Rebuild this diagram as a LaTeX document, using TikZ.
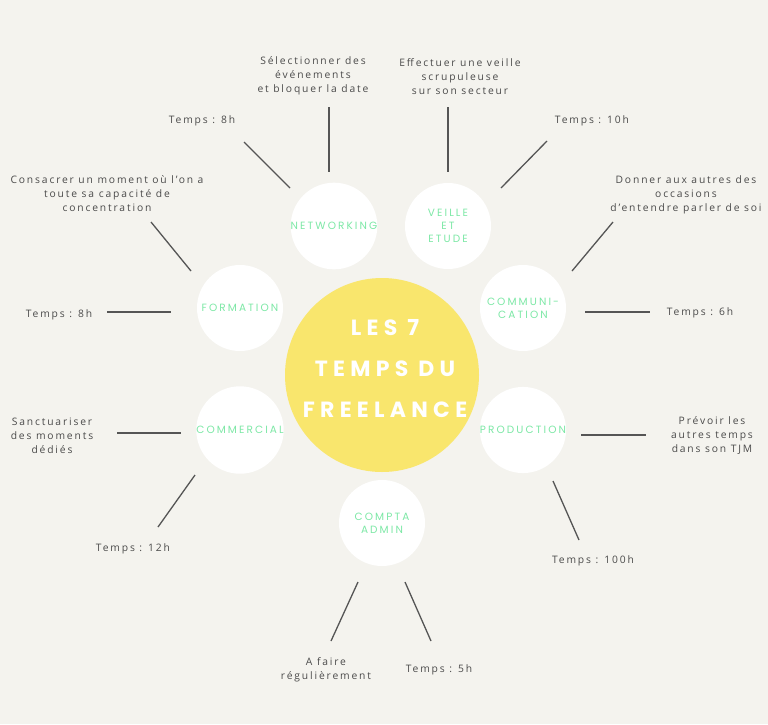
\documentclass[tikz,border=0pt]{standalone}
\usepackage{fontspec}
\setmainfont{Open Sans}[LetterSpace=18]
\newfontfamily\labfont{Poppins}[LetterSpace=20]
\newfontfamily\titfont{Poppins}[LetterSpace=24]
\definecolor{bgcol}{HTML}{F4F3EE}
\definecolor{sun}{HTML}{F9E66D}
\definecolor{labgreen}{HTML}{7DE8A6}
\definecolor{txtgrey}{HTML}{4A4A4A}
\definecolor{linegrey}{HTML}{555555}
\begin{document}
\begin{tikzpicture}[x=1pt,y=-1pt,
  bub/.style={circle,fill=white,minimum size=86pt,inner sep=0pt,text=labgreen,
    font=\labfont\fontsize{10.5}{13}\selectfont,align=center},
  note/.style={text=txtgrey,font=\fontsize{10.3}{14}\selectfont,align=center,inner sep=0pt,yshift=-1.5pt},
  link/.style={draw=linegrey,line width=1.3pt}]
\fill[bgcol] (0,0) rectangle (768,724);
\useasboundingbox (0,0) rectangle (768,724);
% centre
\node[circle,fill=sun,minimum size=194pt,inner sep=0pt] (core) at (382,375) {};
\node[text=white,font=\titfont\bfseries\fontsize{22}{41}\selectfont,align=center] (coretxt) at (385,369) {LES 7\\TEMPS DU\\FREELANCE};
% bubbles
\node[bub] (net) at (334,226) {NETWORKING};
\node[bub] (veille) at (448,226) {VEILLE\\ET\\ETUDE};
\node[bub] (form) at (240,308) {FORMATION};
\node[bub] (comm) at (523,308) {COMMUNI-\\CATION};
\node[bub] (comc) at (240,430) {COMMERCIAL};
\node[bub] (prod) at (523,430) {PRODUCTION};
\node[bub] (compta) at (382,523) {COMPTA\\ADMIN};
% notes
\node[note] (n1) at (313,74) {Sélectionner des\\événements\\et bloquer la date};
\node[note] (n2) at (460,75) {Effectuer une veille\\scrupuleuse\\sur son secteur};
\node[note] (n3) at (202,119) {Temps : 8h};
\node[note] (n4) at (592,119) {Temps : 10h};
\node[note] (n5) at (107,192) {Consacrer un moment où l’on a\\toute sa capacité de\\concentration};
\node[note] (n6) at (686,193) {Donner aux autres des\\occasions\\d’entendre parler de soi};
\node[note] (n7) at (59,313) {Temps : 8h};
\node[note] (n8) at (700,311) {Temps : 6h};
\node[note] (n9) at (52,434) {Sanctuariser\\des moments\\dédiés};
\node[note] (n10) at (712,434) {Prévoir les\\autres temps\\dans son TJM};
\node[note] (n11) at (133,547) {Temps : 12h};
\node[note] (n12) at (593,559) {Temps : 100h};
\node[note] (n13) at (326,668) {A faire\\régulièrement};
\node[note] (n14) at (439,668) {Temps : 5h};
% line end points
\coordinate (a1) at (244,142); \coordinate (b1) at (290,188);
\coordinate (a2) at (329,107); \coordinate (b2) at (329,172);
\coordinate (a3) at (448,107); \coordinate (b3) at (448,172);
\coordinate (a4) at (547,141); \coordinate (b4) at (501,188);
\coordinate (a5) at (613,222); \coordinate (b5) at (572,271);
\coordinate (a6) at (585,312); \coordinate (b6) at (650,312);
\coordinate (a7) at (581,435); \coordinate (b7) at (646,435);
\coordinate (a8) at (553,481); \coordinate (b8) at (579,540);
\coordinate (a9) at (405,582); \coordinate (b9) at (431,641);
\coordinate (a10) at (358,582); \coordinate (b10) at (331,641);
\coordinate (a11) at (195,475); \coordinate (b11) at (158,527);
\coordinate (a12) at (117,433); \coordinate (b12) at (181,433);
\coordinate (a13) at (107,312); \coordinate (b13) at (171,312);
\coordinate (a14) at (151,222); \coordinate (b14) at (191,271);
\foreach \i in {1,...,14} {\draw[link] (a\i) -- (b\i);}
\end{tikzpicture}
\end{document}
